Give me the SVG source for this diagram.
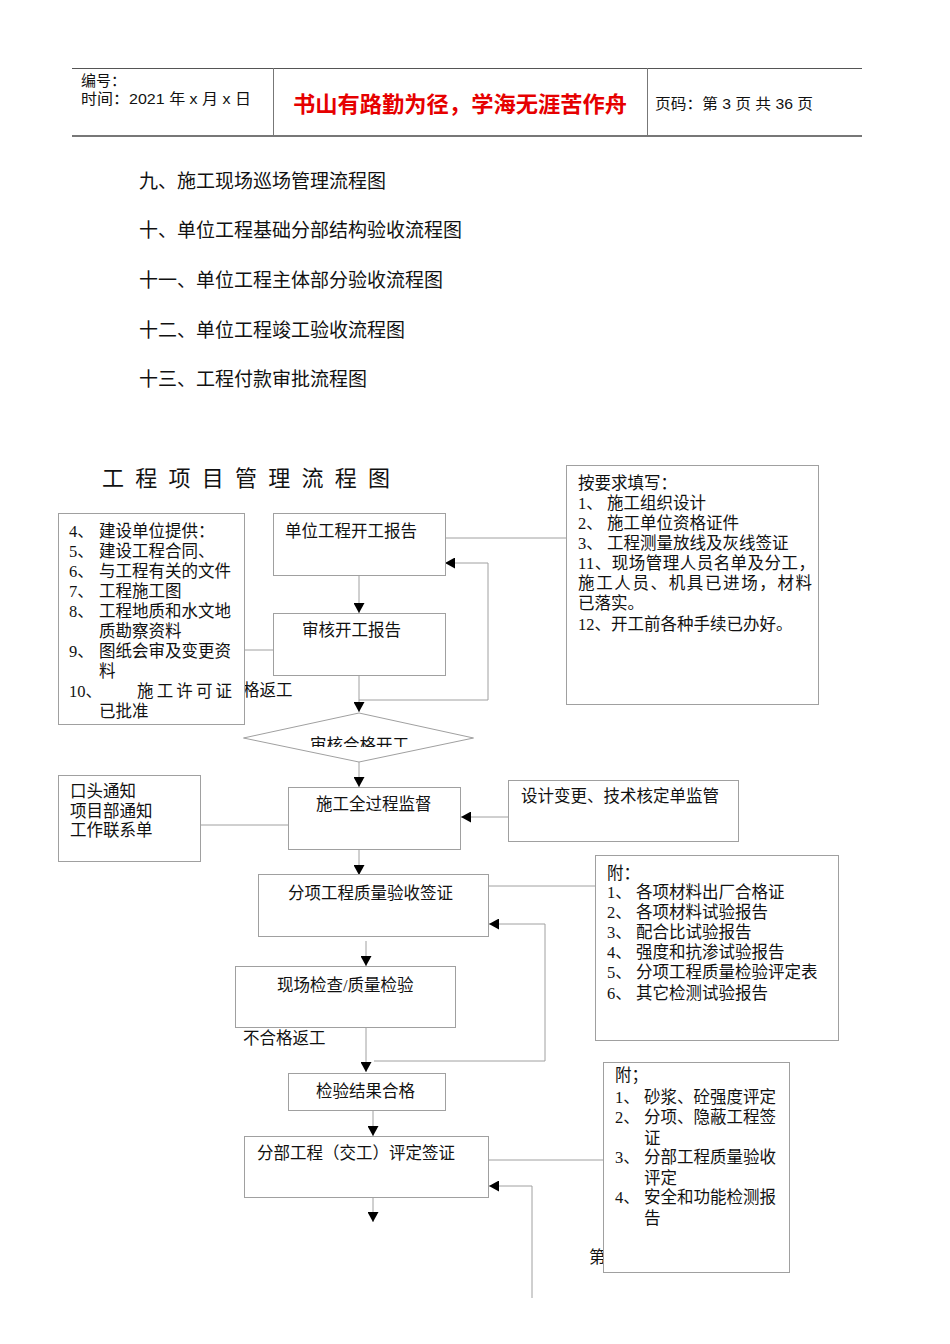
<svg xmlns="http://www.w3.org/2000/svg" width="950" height="1344" viewBox="0 0 950 1344">
<style>
.b{fill:#fff;stroke:#a0a0a0;stroke-width:1}
.t{font-family:"Liberation Serif","Noto Sans CJK SC",serif;font-size:16.5px;fill:#111}
.l{font-family:"Liberation Serif","Noto Sans CJK SC",serif;font-size:19px;fill:#111}
.h{font-family:"Liberation Sans","Noto Sans CJK SC",sans-serif;font-size:15px;fill:#111}
.c{fill:none;stroke:#a0a0a0;stroke-width:1}
.a{marker-end:url(#ar)}
</style>
<defs>
<marker id="ar" markerUnits="userSpaceOnUse" markerWidth="11" markerHeight="11" refX="10" refY="5.5" orient="auto">
<path d="M0,0 L10,5.5 L0,11 z" fill="#000"/>
</marker>
<clipPath id="dclip"><rect x="240" y="700" width="240" height="47"/></clipPath>
</defs>
<rect width="950" height="1344" fill="#fff"/>
<g id="header">
<line x1="72" y1="68.5" x2="862" y2="68.5" stroke="#555" stroke-width="1"/>
<line x1="72" y1="136" x2="862" y2="136" stroke="#777" stroke-width="2"/>
<line x1="273.5" y1="68" x2="273.5" y2="136" stroke="#777"/>
<line x1="647.5" y1="68" x2="647.5" y2="136" stroke="#777"/>
<text class="h" x="81" y="86">编号：</text>
<text class="h" x="81" y="104" textLength="170" lengthAdjust="spacingAndGlyphs">时间：2021 年 x 月 x 日</text>
<text x="293" y="112" font-family="'Liberation Sans','Noto Sans CJK SC',sans-serif" font-size="22" font-weight="bold" fill="#e60000" textLength="334" lengthAdjust="spacingAndGlyphs">书山有路勤为径，学海无涯苦作舟</text>
<text class="h" x="655" y="109" textLength="158" lengthAdjust="spacingAndGlyphs">页码：第 3 页  共 36 页</text>
</g>
<g id="toc">
<text class="l" x="139" y="188">九、施工现场巡场管理流程图</text>
<text class="l" x="139" y="237">十、单位工程基础分部结构验收流程图</text>
<text class="l" x="139" y="287">十一、单位工程主体部分验收流程图</text>
<text class="l" x="139" y="337">十二、单位工程竣工验收流程图</text>
<text class="l" x="139" y="386">十三、工程付款审批流程图</text>
</g>
<g id="title">
<text x="102" y="486" font-family="'Liberation Sans','Noto Sans CJK SC',sans-serif" font-size="22" fill="#111" textLength="288" lengthAdjust="spacing">工 程 项 目 管 理 流 程 图</text>
</g>
<g id="connectors">
<line class="c a" x1="359" y1="575" x2="359" y2="613"/>
<line class="c a" x1="359" y1="675" x2="359" y2="712"/>
<polyline class="c a" points="359,700 488,700 488,563 445,563"/>
<line class="c" x1="445" y1="538" x2="566" y2="538"/>
<line class="c" x1="244" y1="650" x2="273" y2="650"/>
<line class="c a" x1="359" y1="762" x2="359" y2="787"/>
<line class="c" x1="200" y1="825" x2="288" y2="825"/>
<line class="c a" x1="508" y1="817" x2="461" y2="817"/>
<line class="c a" x1="359" y1="850" x2="359" y2="875"/>
<line class="c" x1="488" y1="886" x2="595" y2="886"/>
<line class="c a" x1="366" y1="941" x2="366" y2="966"/>
<line class="c a" x1="366" y1="1028" x2="366" y2="1072"/>
<polyline class="c a" points="374,1061 545,1061 545,924 489,924"/>
<line class="c a" x1="373" y1="1111" x2="373" y2="1136"/>
<line class="c" x1="488" y1="1160" x2="603" y2="1160"/>
<line class="c a" x1="373" y1="1197" x2="373" y2="1222"/>
<polyline class="c a" points="532,1298 532,1186 489,1186"/>
</g>
<g id="returnLabel1">
<text class="t" x="243" y="696">格返工</text>
</g>
<g id="leftBox">
<rect class="b" x="58.5" y="513.5" width="186" height="211"/>
<text class="t" x="69" y="537">4、</text><text class="t" x="99" y="537">建设单位提供：</text>
<text class="t" x="69" y="557">5、</text><text class="t" x="99" y="557">建设工程合同、</text>
<text class="t" x="69" y="577">6、</text><text class="t" x="99" y="577">与工程有关的文件</text>
<text class="t" x="69" y="597">7、</text><text class="t" x="99" y="597">工程施工图</text>
<text class="t" x="69" y="617">8、</text><text class="t" x="99" y="617">工程地质和水文地</text>
<text class="t" x="99" y="637">质勘察资料</text>
<text class="t" x="69" y="657">9、</text><text class="t" x="99" y="657">图纸会审及变更资</text>
<text class="t" x="99" y="677">料</text>
<text class="t" x="69" y="697">10、</text><text class="t" x="137" y="697" textLength="95" lengthAdjust="spacing">施 工 许 可 证</text>
<text class="t" x="99" y="717">已批准</text>
</g>
<g id="startReport">
<rect class="b" x="273.5" y="513.5" width="172" height="62"/>
<text class="t" x="285" y="537">单位工程开工报告</text>
</g>
<g id="reviewReport">
<rect class="b" x="273.5" y="613.5" width="172" height="62"/>
<text class="t" x="302" y="636">审核开工报告</text>
</g>
<g id="approveDiamond">
<polygon class="b" points="243.5,738 359,713 473.5,738 359,762"/>
<text class="t" x="310" y="751" clip-path="url(#dclip)">审核合格开工</text>
</g>
<g id="requireBox">
<rect class="b" x="566.5" y="465.5" width="252" height="239"/>
<text class="t" x="578" y="489">按要求填写：</text>
<text class="t" x="578" y="509">1、</text><text class="t" x="607" y="509">施工组织设计</text>
<text class="t" x="578" y="529">2、</text><text class="t" x="607" y="529">施工单位资格证件</text>
<text class="t" x="578" y="549">3、</text><text class="t" x="607" y="549">工程测量放线及灰线签证</text>
<text class="t" x="578" y="569" textLength="237" lengthAdjust="spacing">11、现场管理人员名单及分工，</text>
<text class="t" x="578" y="589" textLength="234" lengthAdjust="spacing">施工人员、机具已进场，材料</text>
<text class="t" x="578" y="609">已落实。</text>
<text class="t" x="578" y="630">12、开工前各种手续已办好。</text>
</g>
<g id="noticeBox">
<rect class="b" x="58.5" y="775.5" width="142" height="86"/>
<text class="t" x="70" y="797">口头通知</text>
<text class="t" x="70" y="817">项目部通知</text>
<text class="t" x="70" y="836">工作联系单</text>
</g>
<g id="supervise">
<rect class="b" x="288.5" y="787.5" width="172" height="62"/>
<text class="t" x="316" y="810">施工全过程监督</text>
</g>
<g id="designChange">
<rect class="b" x="508.5" y="780.5" width="230" height="61"/>
<text class="t" x="521" y="802">设计变更、技术核定单监管</text>
</g>
<g id="itemAccept">
<rect class="b" x="258.5" y="874.5" width="230" height="62"/>
<text class="t" x="288" y="899">分项工程质量验收签证</text>
</g>
<g id="attachBox1">
<rect class="b" x="595.5" y="855.5" width="243" height="185"/>
<text class="t" x="607" y="879">附：</text>
<text class="t" x="607" y="898">1、</text><text class="t" x="636" y="898">各项材料出厂合格证</text>
<text class="t" x="607" y="918">2、</text><text class="t" x="636" y="918">各项材料试验报告</text>
<text class="t" x="607" y="938">3、</text><text class="t" x="636" y="938">配合比试验报告</text>
<text class="t" x="607" y="958">4、</text><text class="t" x="636" y="958">强度和抗渗试验报告</text>
<text class="t" x="607" y="978">5、</text><text class="t" x="636" y="978">分项工程质量检验评定表</text>
<text class="t" x="607" y="999">6、</text><text class="t" x="636" y="999">其它检测试验报告</text>
</g>
<g id="siteCheck">
<rect class="b" x="235.5" y="966.5" width="220" height="61"/>
<text class="t" x="277" y="991">现场检查/质量检验</text>
</g>
<g id="returnLabel2">
<text class="t" x="243" y="1044">不合格返工</text>
</g>
<g id="checkPass">
<rect class="b" x="288.5" y="1073.5" width="157" height="37"/>
<text class="t" x="316" y="1097">检验结果合格</text>
</g>
<g id="divisionSign">
<rect class="b" x="244.5" y="1136.5" width="244" height="61"/>
<text class="t" x="257" y="1159">分部工程（交工）评定签证</text>
</g>
<g id="attachBox2">
<text class="t" x="589" y="1263" font-size="13">第</text>
<rect class="b" x="603.5" y="1062.5" width="186" height="210"/>
<text class="t" x="615" y="1081">附；</text>
<text class="t" x="615" y="1103">1、</text><text class="t" x="644" y="1103">砂浆、砼强度评定</text>
<text class="t" x="615" y="1123">2、</text><text class="t" x="644" y="1123">分项、隐蔽工程签</text>
<text class="t" x="644" y="1144">证</text>
<text class="t" x="615" y="1163">3、</text><text class="t" x="644" y="1163">分部工程质量验收</text>
<text class="t" x="644" y="1184">评定</text>
<text class="t" x="615" y="1203">4、</text><text class="t" x="644" y="1203">安全和功能检测报</text>
<text class="t" x="644" y="1224">告</text>
</g>
</svg>
